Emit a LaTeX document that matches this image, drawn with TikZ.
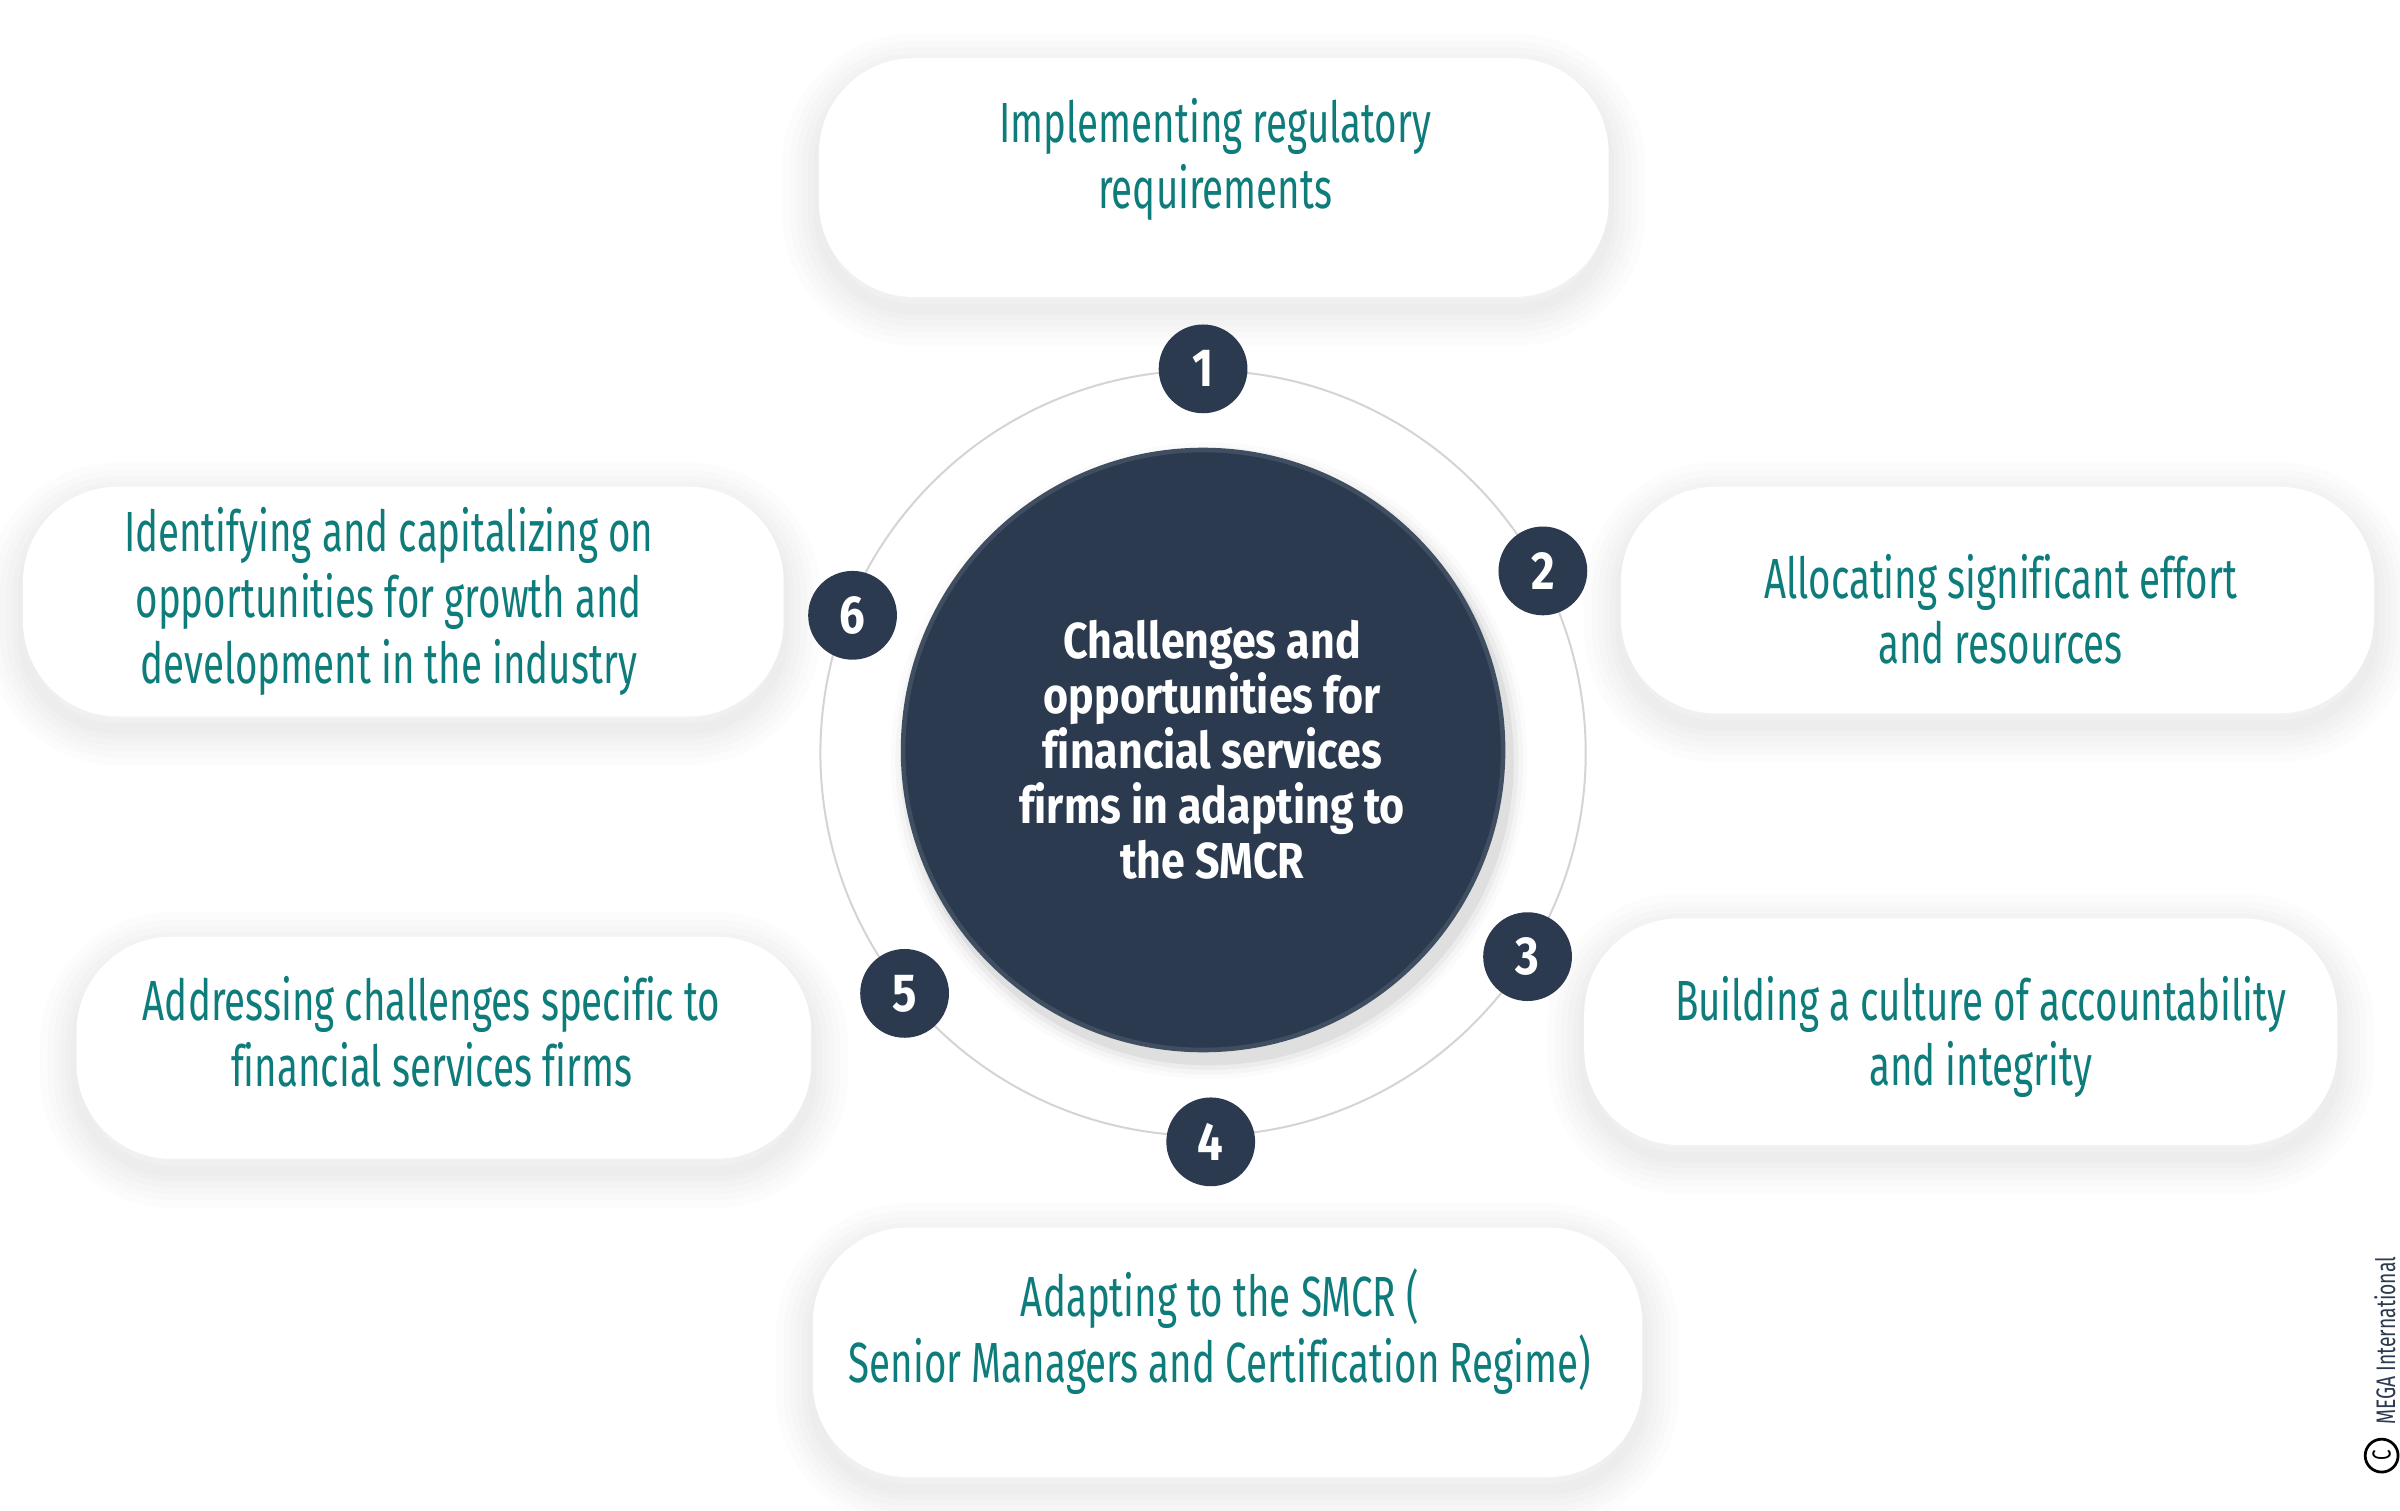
\documentclass[tikz,border=0pt]{standalone}
\usepackage{fontspec}
\newfontfamily\pillfont[FakeStretch=0.68,Ligatures=CommonOff]{Fira Sans}
\newfontfamily\hubfont[FakeStretch=0.85,Ligatures=CommonOff]{Fira Sans}
\newfontfamily\smallfont[FakeStretch=0.72]{Fira Sans}
\definecolor{txtteal}{HTML}{0E7C7B}
\definecolor{navy}{HTML}{2B3A4F}
\definecolor{orbitgray}{HTML}{D4D4D4}
\newcommand{\pillshadow}[4]{%
  \foreach \lw in {48,38,30,22,14,7}{%
    \draw[black, opacity=0.012, line width=\lw pt, rounded corners=62pt]
      (#1-#3/2, #2-#4/2+8) rectangle (#1+#3/2, #2+#4/2+8);
  }}
\tikzset{
  pill/.style={rectangle, rounded corners=62pt, fill=white, inner sep=0pt},
  pilltext/.style={align=center, text=txtteal, inner sep=0pt,
    font=\pillfont\fontsize{37}{43}\selectfont},
  numdot/.style={circle, fill=navy, minimum size=58pt, inner sep=0pt, text=white,
    font=\hubfont\bfseries\fontsize{35}{35}\selectfont},
  hubstyle/.style={circle, fill=navy, draw=navy!90!white, line width=3pt,
    minimum size=392pt, inner sep=0pt},
  hubtext/.style={align=center, text=white, inner sep=0pt,
    font=\hubfont\bfseries\fontsize{33}{36}\selectfont},
  orbit/.style={draw=orbitgray, line width=1.3pt},
}
\begin{document}
\begin{tikzpicture}[x=1pt, y=-1pt]
\useasboundingbox[fill=white] (0,0) rectangle (1568,987);

% shadows of pills
\pillshadow{793}{116}{516}{156}
\pillshadow{1305}{392}{492}{148}
\pillshadow{1281}{674}{492}{148}
\pillshadow{802}{883.5}{542}{163}
\pillshadow{290}{684.5}{480}{145}
\pillshadow{263.5}{393}{497}{150}

% pills
\node[pill, minimum width=516pt, minimum height=156pt] (p1) at (793,116) {};
\node[pill, minimum width=492pt, minimum height=148pt] (p2) at (1305,392) {};
\node[pill, minimum width=492pt, minimum height=148pt] (p3) at (1281,674) {};
\node[pill, minimum width=542pt, minimum height=163pt] (p4) at (802,883.5) {};
\node[pill, minimum width=480pt, minimum height=145pt] (p5) at (290,684.5) {};
\node[pill, minimum width=497pt, minimum height=150pt] (p6) at (263.5,393) {};

\node[pilltext] (t1) at (794,104) {Implementing regulatory\\requirements};
\node[pilltext] (t2) at (1307,398) {Allocating significant effort\\and resources};
\node[pilltext] (t3) at (1294,677.5) {Building a culture of accountability\\and integrity};
\node[pilltext] (t4) at (797,870) {Adapting to the SMCR (\\Senior Managers and Certification Regime)};
\node[pilltext] (t5) at (282,674) {Addressing challenges specific to\\financial services firms};
\node[pilltext] (t6) at (254,393) {Identifying and capitalizing on\\opportunities for growth and\\development in the industry};

% orbit
\coordinate (oc) at (786,492);
\draw[orbit] (oc) circle[radius=250];

% hub shadow
\foreach \r/\o in {208/0.015,205/0.025,202/0.035,199/0.05}{
  \fill[black, opacity=\o] (790,497) circle[radius=\r];
}
\node[hubstyle] (hub) at (786,490) {};
\node[hubtext] (hubt) at (792,490) {Challenges and\\opportunities for\\financial services\\firms in adapting to\\the SMCR};

% numbers
\node[numdot] (n1) at (786,241) {1};
\node[numdot] (n2) at (1008,373) {2};
\node[numdot] (n3) at (998,625) {3};
\node[numdot] (n4) at (791,746) {4};
\node[numdot] (n5) at (591,649) {5};
\node[numdot] (n6) at (557,402) {6};

% copyright
\node[rotate=90, text=navy, inner sep=0pt, font=\smallfont\fontsize{17.5}{17.5}\selectfont] (cr) at (1558,876) {MEGA International};
\node[circle, draw=black, line width=1.8pt, minimum size=21.5pt, inner sep=0pt, rotate=90,
  font=\smallfont\fontsize{17}{17}\selectfont] (cc) at (1556,951) {C};
\end{tikzpicture}
\end{document}
